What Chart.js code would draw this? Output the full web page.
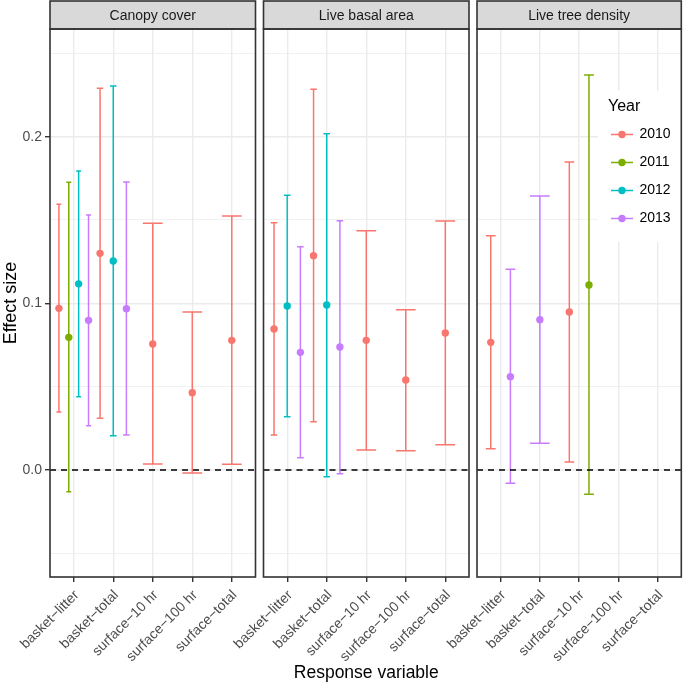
<!DOCTYPE html>
<html>
<head>
<meta charset="utf-8">
<script src="https://cdn.jsdelivr.net/npm/chart.js@4.4.1/dist/chart.umd.min.js"></script>
<style>
  html, body { margin: 0; padding: 0; background: #fff; }
  #wrap { position: relative; width: 685px; height: 684px; }
  #wrap canvas { position: absolute; left: 0; top: 0; }
</style>
</head>
<body>
<div id="wrap">
  <canvas id="p0" width="685" height="684"></canvas>
  <canvas id="p1" width="685" height="684"></canvas>
  <canvas id="p2" width="685" height="684"></canvas>
</div>
<script>
// ---- dados ----
const categories = ['basket\u2212litter', 'basket\u2212total', 'surface\u221210 hr', 'surface\u2212100 hr', 'surface\u2212total'];
const years = ['2010', '2011', '2012', '2013'];
const yearColors = ['#F8766D', '#7CAE00', '#00BFC4', '#C77CFF'];
const panelTitles = ['Canopy cover', 'Live basal area', 'Live tree density'];
const yMajorTicks = [0, 0.1, 0.2];
const yMinorTicks = [-0.05, 0.05, 0.15, 0.25];

// linhas = anos, colunas = categorias (null = sem estimativa)
const canopyEst = [
  [0.097, 0.130, 0.0756, 0.0464, 0.0778],
  [0.0796, null, null, null, null],
  [0.1117, 0.1254, null, null, null],
  [0.0898, 0.0968, null, null, null]
];
const canopyLow = [
  [0.0348, 0.031, 0.0036, -0.0018, 0.0034],
  [-0.013, null, null, null, null],
  [0.044, 0.0206, null, null, null],
  [0.0266, 0.021, null, null, null]
];
const canopyHigh = [
  [0.1594, 0.229, 0.148, 0.0948, 0.1524],
  [0.1726, null, null, null, null],
  [0.1794, 0.2304, null, null, null],
  [0.153, 0.1728, null, null, null]
];

const basalEst = [
  [0.0846, 0.1286, 0.0778, 0.054, 0.0822],
  [null, null, null, null, null],
  [0.0984, 0.099, null, null, null],
  [0.0706, 0.0738, null, null, null]
];
const basalLow = [
  [0.021, 0.029, 0.012, 0.0116, 0.0152],
  [null, null, null, null, null],
  [0.032, -0.004, null, null, null],
  [0.0074, -0.0022, null, null, null]
];
const basalHigh = [
  [0.1484, 0.2284, 0.1436, 0.0962, 0.1494],
  [null, null, null, null, null],
  [0.1648, 0.2018, null, null, null],
  [0.134, 0.1496, null, null, null]
];

const densityEst = [
  [0.0766, null, 0.0948, null, null],
  [null, null, 0.111, null, null],
  [null, null, null, null, null],
  [0.056, 0.0902, null, null, null]
];
const densityLow = [
  [0.0128, null, 0.0048, null, null],
  [null, null, -0.0146, null, null],
  [null, null, null, null, null],
  [-0.008, 0.016, null, null, null]
];
const densityHigh = [
  [0.1406, null, 0.1848, null, null],
  [null, null, 0.237, null, null],
  [null, null, null, null, null],
  [0.1204, 0.1644, null, null, null]
];

const panelData = [
  [canopyEst, canopyLow, canopyHigh],
  [basalEst, basalLow, basalHigh],
  [densityEst, densityLow, densityHigh]
];

// ---- layout ----
const FONT = "'Liberation Sans', Arial, sans-serif";
const panelLeft = [50, 263.5, 477];
const panelRight = [255.5, 469, 682.5];
const yMin = -0.0642, yMax = 0.2646;
const stripTop = 1, plotTop = 29, xAxisHeight = 107;

function isMajor(v) {
    return yMajorTicks.some(m => Math.abs(m - v) < 1e-9);
}

// posição com dodge (estilo ggplot): largura 1, barra 0.5/n
function montarDatasets(est, low, high) {
    const pts = years.map(() => []);
    categories.forEach((c, ci) => {
        const presentes = years.map((y, yi) => yi).filter(yi => est[yi][ci] !== null);
        const n = presentes.length;
        presentes.forEach((yi, k) => {
            pts[yi].push({
                x: ci + 1 - 0.5 + (k + 0.5) / n,
                y: est[yi][ci],
                lo: low[yi][ci],
                hi: high[yi][ci],
                w: 0.5 / n
            });
        });
    });
    return years.map((y, yi) => ({
        label: y,
        data: pts[yi],
        backgroundColor: yearColors[yi],
        borderColor: yearColors[yi],
        borderWidth: 0,
        pointRadius: 3.7,
        pointHoverRadius: 3.7,
        showLine: false
    }));
}

const errorBarPlugin = {
    id: 'errorBars',
    beforeDatasetsDraw(chart) {
        const ctx = chart.ctx;
        const xs = chart.scales.x, ys = chart.scales.y;
        const area = chart.chartArea;
        ctx.save();
        ctx.beginPath();
        ctx.rect(area.left, area.top, area.right - area.left, area.bottom - area.top);
        ctx.clip();
        chart.data.datasets.forEach(ds => {
            ctx.strokeStyle = ds.borderColor;
            ctx.lineWidth = 1.5;
            ds.data.forEach(p => {
                const x = xs.getPixelForValue(p.x);
                const hw = xs.getPixelForValue(p.x + p.w / 2) - x;
                const yLo = ys.getPixelForValue(p.lo);
                const yHi = ys.getPixelForValue(p.hi);
                ctx.beginPath();
                ctx.moveTo(x, yLo); ctx.lineTo(x, yHi);
                ctx.moveTo(x - hw, yLo); ctx.lineTo(x + hw, yLo);
                ctx.moveTo(x - hw, yHi); ctx.lineTo(x + hw, yHi);
                ctx.stroke();
            });
        });
        // linha tracejada em zero
        const y0 = ys.getPixelForValue(0);
        ctx.strokeStyle = '#000';
        ctx.lineWidth = 1.4;
        ctx.setLineDash([6, 5]);
        ctx.beginPath();
        ctx.moveTo(area.left, y0); ctx.lineTo(area.right, y0);
        ctx.stroke();
        ctx.restore();
    }
};

const molduraPlugin = {
    id: 'moldura',
    afterDraw(chart, args, opts) {
        const ctx = chart.ctx;
        const a = chart.chartArea;
        ctx.save();
        // faixa do título do painel
        ctx.fillStyle = '#D9D9D9';
        ctx.fillRect(a.left, stripTop, a.right - a.left, plotTop - stripTop);
        ctx.strokeStyle = '#333333';
        ctx.lineWidth = 1.6;
        ctx.strokeRect(a.left, stripTop, a.right - a.left, plotTop - stripTop);
        ctx.fillStyle = '#1A1A1A';
        ctx.font = '14px ' + FONT;
        ctx.textAlign = 'center';
        ctx.textBaseline = 'middle';
        ctx.fillText(opts.title, (a.left + a.right) / 2, (stripTop + plotTop) / 2 + 1);
        // borda do painel
        ctx.strokeRect(a.left, a.top, a.right - a.left, a.bottom - a.top);
        ctx.restore();
    }
};

const legendaPlugin = {
    id: 'legendaAno',
    afterDatasetsDraw(chart, args, opts) {
        if (!opts.show) return;
        const ctx = chart.ctx;
        const a = chart.chartArea;
        ctx.save();
        ctx.fillStyle = '#fff';
        ctx.fillRect(598, 91, a.right - 598, 151);
        ctx.fillStyle = '#000';
        ctx.font = '16px ' + FONT;
        ctx.textAlign = 'left';
        ctx.textBaseline = 'middle';
        ctx.fillText('Year', 608, 107);
        years.forEach((y, i) => {
            const cy = 134.5 + i * 28;
            ctx.strokeStyle = yearColors[i];
            ctx.lineWidth = 1.5;
            ctx.beginPath();
            ctx.moveTo(611, cy); ctx.lineTo(633, cy);
            ctx.stroke();
            ctx.fillStyle = yearColors[i];
            ctx.beginPath();
            ctx.arc(622, cy, 3.7, 0, Math.PI * 2);
            ctx.fill();
            ctx.fillStyle = '#000';
            ctx.font = '14px ' + FONT;
            ctx.fillText(y, 639.5, cy);
        });
        ctx.restore();
    }
};

function criarPainel(i) {
    const [est, low, high] = panelData[i];
    const yWidth = i === 0 ? 50 : 0;
    return new Chart(document.getElementById('p' + i), {
        type: 'scatter',
        data: { datasets: montarDatasets(est, low, high) },
        plugins: [errorBarPlugin, molduraPlugin, legendaPlugin],
        options: {
            responsive: false,
            animation: false,
            layout: {
                padding: { left: panelLeft[i] - yWidth, right: 685 - panelRight[i], top: plotTop, bottom: 0 }
            },
            plugins: {
                legend: { display: false },
                tooltip: { enabled: false },
                moldura: { title: panelTitles[i] },
                legendaAno: { show: i === 2 }
            },
            scales: {
                x: {
                    type: 'linear',
                    min: 0.4,
                    max: 5.6,
                    afterBuildTicks: s => { s.ticks = categories.map((c, ci) => ({ value: ci + 1 })); },
                    afterFit: s => { s.height = xAxisHeight; s.paddingLeft = 0; s.paddingRight = 0; },
                    ticks: {
                        autoSkip: false,
                        minRotation: 45,
                        maxRotation: 45,
                        padding: 5,
                        labelOffset: 3,
                        color: '#4D4D4D',
                        font: { family: FONT, size: 14 },
                        callback: v => categories[Math.round(v) - 1]
                    },
                    grid: { color: '#EBEBEB', lineWidth: 1.4, tickLength: 5, tickColor: '#333333' },
                    border: { display: false },
                    title: {
                        display: i === 1,
                        text: 'Response variable',
                        color: '#000',
                        font: { family: FONT, size: 17.5 },
                        padding: { top: 0, bottom: 0 }
                    }
                },
                y: {
                    type: 'linear',
                    min: yMin,
                    max: yMax,
                    afterBuildTicks: s => { s.ticks = yMinorTicks.concat(yMajorTicks).sort((a, b) => a - b).map(v => ({ value: v })); },
                    afterFit: s => { s.width = yWidth; },
                    ticks: {
                        display: i === 0,
                        padding: 3,
                        color: '#4D4D4D',
                        font: { family: FONT, size: 14 },
                        callback: v => isMajor(v) ? v.toFixed(1) : ''
                    },
                    grid: {
                        color: '#EBEBEB',
                        lineWidth: c => isMajor(c.tick.value) ? 1.4 : 0.7,
                        drawTicks: i === 0,
                        tickLength: 5,
                        tickColor: c => isMajor(c.tick.value) ? '#333333' : 'rgba(0,0,0,0)'
                    },
                    border: { display: false },
                    title: {
                        display: i === 0,
                        text: 'Effect size',
                        color: '#000',
                        font: { family: FONT, size: 18 },
                        padding: { top: 0, bottom: 0 }
                    }
                }
            }
        }
    });
}

[0, 1, 2].forEach(criarPainel);
</script>
</body>
</html>
